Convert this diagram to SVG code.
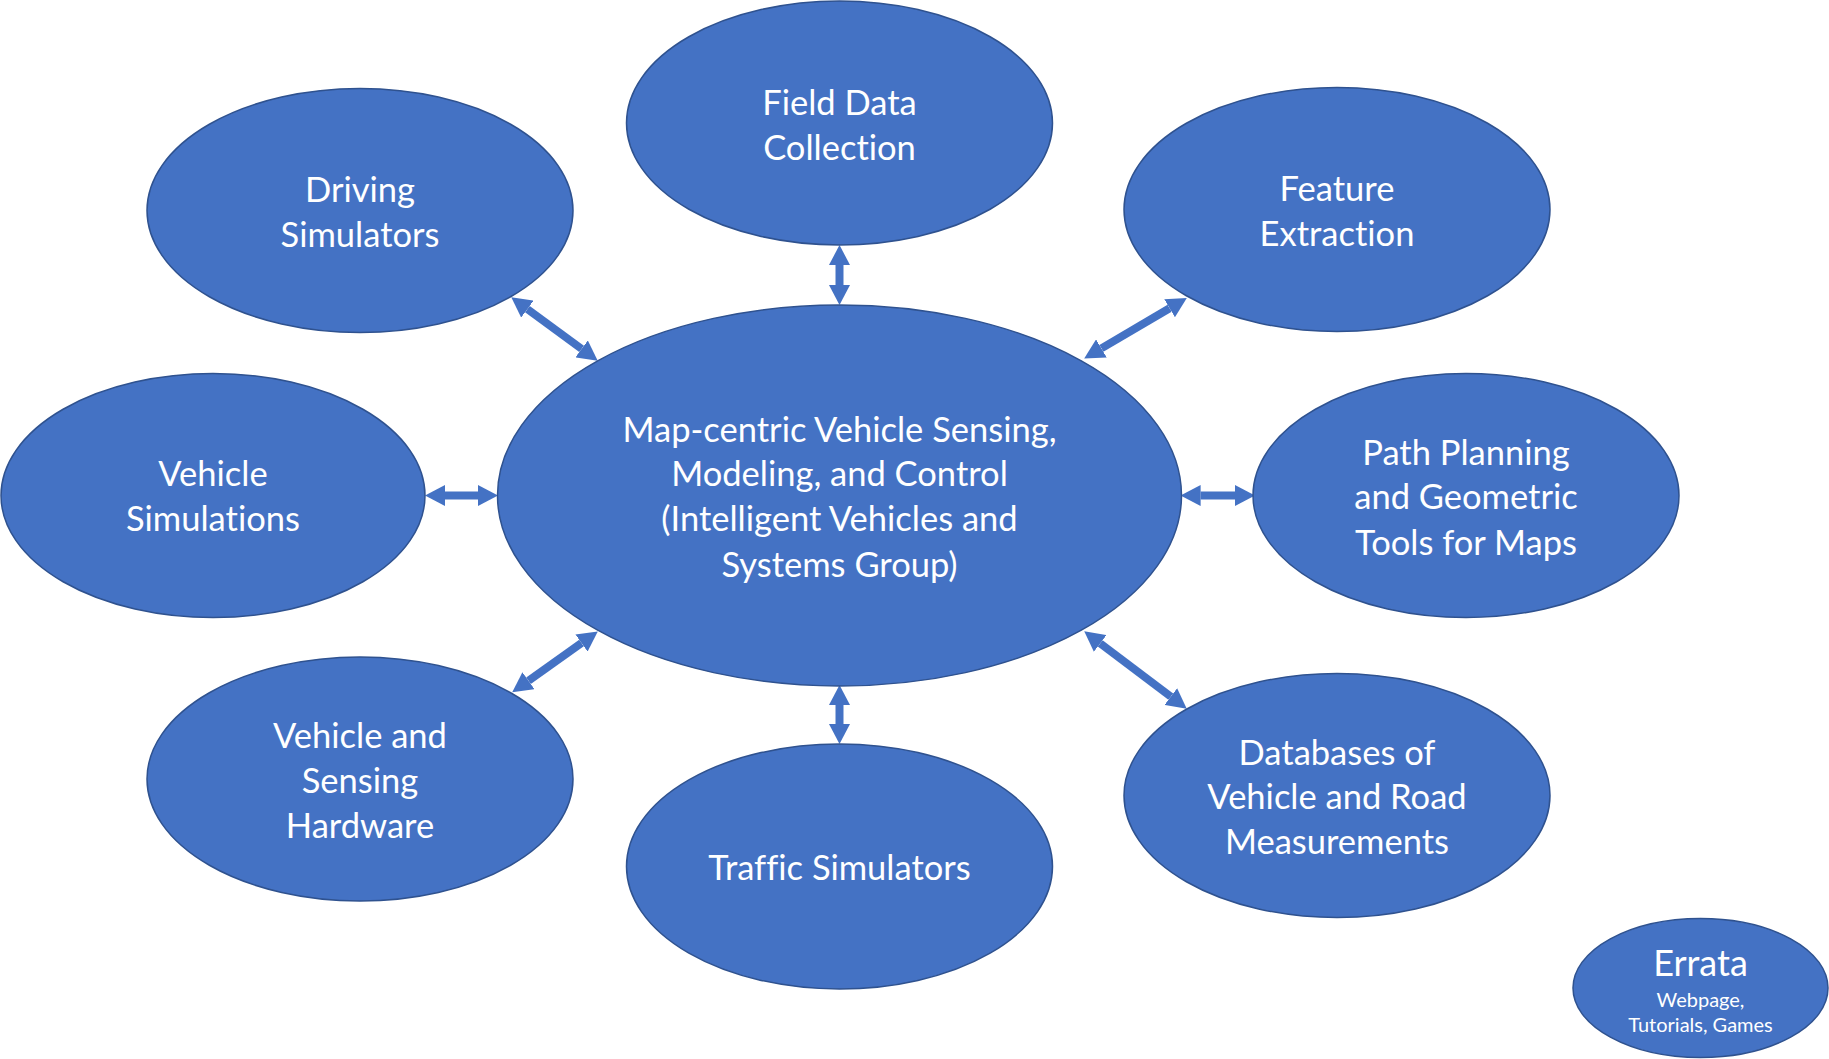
<svg xmlns="http://www.w3.org/2000/svg" width="1829" height="1059" viewBox="0 0 1829 1059">
<defs>
<style>
.node ellipse{fill:#4472C4;stroke:#2F528F;stroke-width:1.5}
.node text{fill:#FFFFFF;font-family:Lato,"Open Sans","Liberation Sans",sans-serif;font-size:34.5px;text-anchor:middle;font-variant-ligatures:none}
.conn path{stroke:#4472C4;stroke-width:8;fill:none;marker-start:url(#ah);marker-end:url(#ah)}
.node text.small{font-size:20px}
.node text.big{font-size:36px}
</style>
<marker id="ah" markerUnits="userSpaceOnUse" markerWidth="20" markerHeight="21" refX="0" refY="10.5" orient="auto-start-reverse" viewBox="0 0 20 21">
<path d="M0,0 L20,10.5 L0,21 z" fill="#4472C4"/>
</marker>
</defs>
<rect width="1829" height="1059" fill="#FFFFFF"/>
<g id="connectors" class="conn">
<path d="M839.5,265 L839.5,285"/>
<path d="M527.4,309.1 L581.6,348.9"/>
<path d="M1169.6,308.2 L1101.4,348.4"/>
<path d="M445,495.5 L478,495.5"/>
<path d="M1200.6,495.5 L1235,495.5"/>
<path d="M528.5,680.7 L581.5,643"/>
<path d="M839.5,705 L839.5,724"/>
<path d="M1100.2,643.4 L1170.8,696.6"/>
</g>
<g id="field-data" class="node">
<ellipse cx="839.5" cy="123" rx="213" ry="122"/>
<text x="839.5" y="114.5">Field Data</text>
<text x="839.5" y="159.5">Collection</text>
</g>
<g id="driving-simulators" class="node">
<ellipse cx="360" cy="210.5" rx="213" ry="122"/>
<text x="360" y="202">Driving</text>
<text x="360" y="246.5">Simulators</text>
</g>
<g id="feature-extraction" class="node">
<ellipse cx="1337" cy="209.5" rx="213" ry="122"/>
<text x="1337" y="201">Feature</text>
<text x="1337" y="245.5">Extraction</text>
</g>
<g id="vehicle-simulations" class="node">
<ellipse cx="213" cy="495.5" rx="212" ry="122"/>
<text x="213" y="485.5">Vehicle</text>
<text x="213" y="531">Simulations</text>
</g>
<g id="center" class="node">
<ellipse cx="839.5" cy="495.5" rx="342" ry="190.5"/>
<text x="839.5" y="441.5">Map-centric Vehicle Sensing,</text>
<text x="839.5" y="486">Modeling, and Control</text>
<text x="839.5" y="531">(Intelligent Vehicles and</text>
<text x="839.5" y="576.5">Systems Group)</text>
</g>
<g id="path-planning" class="node">
<ellipse cx="1466" cy="495.5" rx="213" ry="122"/>
<text x="1466" y="464.5">Path Planning</text>
<text x="1466" y="509">and Geometric</text>
<text x="1466" y="554.5">Tools for Maps</text>
</g>
<g id="hardware" class="node">
<ellipse cx="360" cy="779" rx="213" ry="122"/>
<text x="360" y="748">Vehicle and</text>
<text x="360" y="792.5">Sensing</text>
<text x="360" y="838">Hardware</text>
</g>
<g id="traffic-simulators" class="node">
<ellipse cx="839.5" cy="866.5" rx="213" ry="122.5"/>
<text x="839.5" y="880">Traffic Simulators</text>
</g>
<g id="databases" class="node">
<ellipse cx="1337" cy="795.5" rx="213" ry="122"/>
<text x="1337" y="764.5">Databases of</text>
<text x="1337" y="808.5">Vehicle and Road</text>
<text x="1337" y="854">Measurements</text>
</g>
<g id="errata" class="node">
<ellipse cx="1700.5" cy="988" rx="127.5" ry="69.5"/>
<text class="big" x="1700.5" y="976">Errata</text>
<text class="small" x="1700.5" y="1007">Webpage,</text>
<text class="small" x="1700.5" y="1032">Tutorials, Games</text>
</g>
</svg>
